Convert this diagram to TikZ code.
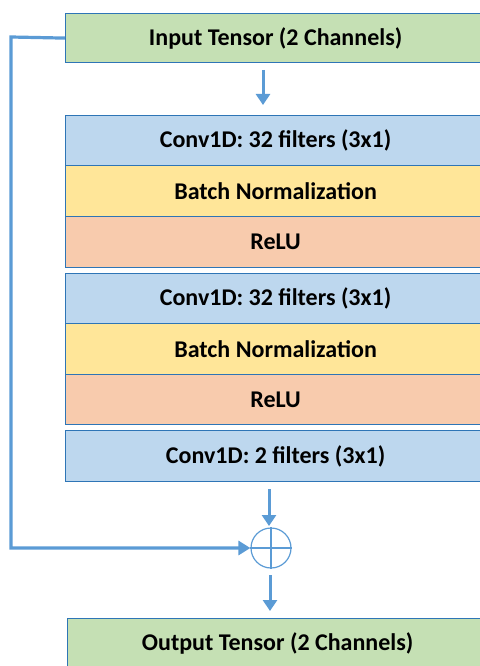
\documentclass[tikz,border=0pt]{standalone}
\usepackage{fontspec}
\setmainfont{Carlito}
\usetikzlibrary{arrows.meta}
\definecolor{cgreen}{HTML}{C5E0B4}
\definecolor{cblue}{HTML}{BDD7EE}
\definecolor{cyellow}{HTML}{FFE699}
\definecolor{corange}{HTML}{F8CBAD}
\definecolor{cborder}{HTML}{2E75B6}
\definecolor{carrow}{HTML}{5B9BD5}
\begin{document}
\begin{tikzpicture}[x=1pt,y=-1pt,
  layer/.style={draw=cborder, line width=1.2pt, minimum width=420pt, anchor=north west, inner sep=0pt, font=\bfseries\fontsize{24}{28}\selectfont},
  flow/.style={draw=carrow, line width=3pt, -{Triangle[length=11pt,width=14pt]}},
  skip/.style={draw=carrow, line width=3.2pt, -{Triangle[length=12pt,width=14pt]}}]
\useasboundingbox (0,0) rectangle (479,666);
\node[layer, fill=cgreen, minimum height=49pt] (inp) at (65,13) {Input Tensor (2 Channels)};
\node[layer, fill=cblue, minimum height=50pt] (c1) at (65,115) {Conv1D: 32 filters (3x1)};
\node[layer, fill=cyellow, minimum height=51pt] (b1) at (65,165) {Batch Normalization};
\node[layer, fill=corange, minimum height=51pt] (r1) at (65,216) {ReLU};
\node[layer, fill=cblue, minimum height=50pt] (c2) at (65,273) {Conv1D: 32 filters (3x1)};
\node[layer, fill=cyellow, minimum height=51pt] (b2) at (65,323) {Batch Normalization};
\node[layer, fill=corange, minimum height=50pt] (r2) at (65,374) {ReLU};
\node[layer, fill=cblue, minimum height=51pt] (c3) at (65,430) {Conv1D: 2 filters (3x1)};
\node[draw=carrow, line width=1.2pt, circle, minimum size=40pt, inner sep=0pt] (sum) at (271,548) {};
\draw[carrow, line width=1.2pt] (sum.north) -- (sum.south) (sum.west) -- (sum.east);
\node[layer, fill=cgreen, minimum height=50pt] (out) at (67,618) {Output Tensor (2 Channels)};
\coordinate (a1s) at (263,70);
\coordinate (a1e) at (263,105);
\draw[flow] (a1s) -- (a1e);
\coordinate (a2s) at (269,489);
\coordinate (a2e) at (269,526);
\draw[flow] (a2s) -- (a2e);
\coordinate (a3s) at (270,575);
\coordinate (a3e) at (270,611);
\draw[flow] (a3s) -- (a3e);
\draw[skip] (inp.west) -- (11,37) |- (sum.west);
\end{tikzpicture}
\end{document}
